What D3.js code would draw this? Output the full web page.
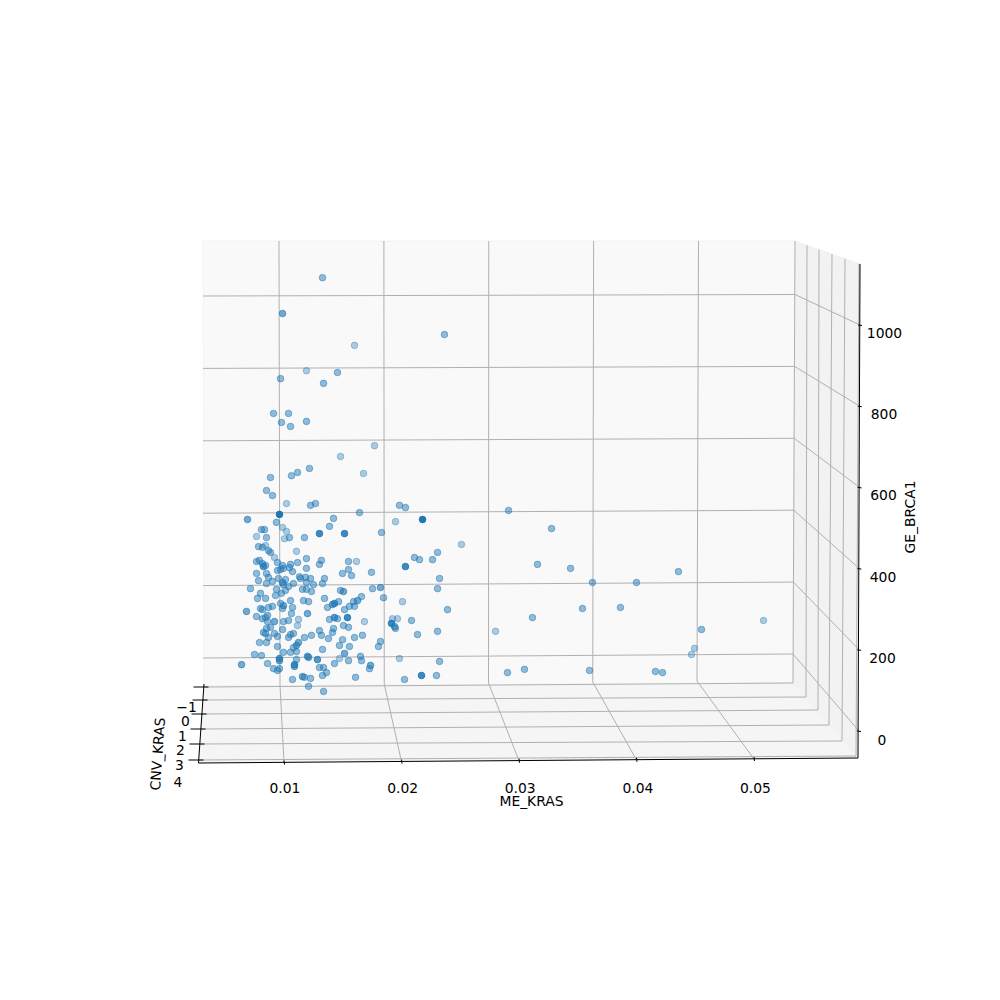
<!DOCTYPE html>
<html>
<head>
<meta charset="utf-8">
<script src="https://cdn.jsdelivr.net/npm/d3@7/dist/d3.min.js"></script>
<style>
html,body{margin:0;padding:0;background:#fff}
svg{display:block}
text{font-family:"DejaVu Sans",sans-serif;font-size:13.89px;fill:#000}
</style>
</head>
<body>
<svg id="chart" width="1000" height="1000"></svg>
<script>
const meTicks = [0.01,0.02,0.03,0.04,0.05];
const cnvTicks = [-1,0,1,2,3,4];
const geTicks = [0,200,400,600,800,1000];

const meKras = [
.0141,.01029,.02573,.01715,.01257,.01553,.0101,.0142,.00943,.01086,
.01257,.01019,.01105,.01906,.01582,.01801,.01286,.01172,.01114,.00914,
.00876,.00933,.01067,.01296,.01343,.01,.00695,.01515,.00971,.01477,
.00828,.00857,.01029,.01067,.01381,.0162,.00781,.00876,.01048,.01095,
.01238,.01162,.008,.00838,.00867,.00895,.00914,.00952,.01257,.01257,
.014,.01381,.01172,.01658,.01734,.01658,.01601,.01687,.01877,.00781,
.00809,.00838,.00847,.00867,.00981,.01029,.01105,.00981,.0101,.01038,
.01095,.01124,.00781,.00876,.008,.00895,.00876,.00933,.0099,.01029,
.01057,.01038,.01133,.01086,.01191,.012,.01248,.01257,.01296,.01324,
.01429,.0141,.00723,.00971,.00819,.00867,.0079,.01019,.01057,.01219,
.01257,.01305,.01582,.0161,.01429,.01105,.01229,.01277,.00962,.00933,
.00895,.00819,.00838,.0101,.01038,.01029,.01124,.01114,.01267,.01458,
.01505,.01524,.01563,.0162,.01667,.01715,.01706,.01744,.01782,.00685,
.00781,.00838,.00867,.00886,.00886,.00952,.00914,.00876,.00847,.00867,
.00895,.00952,.00981,.01029,.01038,.01086,.01181,.01172,.01133,.01105,
.01086,.01238,.01305,.01381,.014,.01515,.01505,.01467,.01524,.01553,
.01477,.01648,.0161,.0181,.01658,.01601,.01572,.01667,.01791,.01715,
.01963,.01944,.00809,.00876,.00981,.01181,.01162,.01133,.01162,.01105,
.01038,.0141,.00762,.00828,.01,.01,.01162,.01267,.01277,.01362,
.0162,.01572,.01658,.01772,.01782,.01524,.00638,.00886,.01143,.01143,
.00943,.00981,.01,.01381,.0142,.01448,.0141,.01219,.01238,.01296,
.01124,.01277,.0142,.01868,.01858,.01725,.02192,.02354,.02497,.02144,
.02526,.01992,.02173,.02602,.02077,.02125,.02259,.02068,.02097,.02106,
.02316,.02507,.01887,.01963,.02526,.02507,.01763,.02144,.02201,.02106,
.02364,.01973,.02735,.02507,.02287,.02335,.02459,.02201,.03184,.03594,
.0346,.03775,.03984,.04404,.04804,.03412,.03889,.04251,.05024,.05615,
.04957,.04928,.0306,.03174,.03336,.03956,.04585,.04652
];
const geBrca1 = [
1052,953,895,865,795,790,773,760,677,677,
655,652,641,588,558,511,525,514,505,500,
464,450,428,423,428,398,384,387,376,365,
356,356,362,351,345,345,337,334,331,334,
334,296,309,307,312,298,293,279,276,249,
271,260,265,268,268,246,235,229,238,268,
271,262,254,257,265,257,260,243,246,249,
251,240,235,235,215,224,207,213,221,210,
218,204,207,199,226,221,224,210,221,204,
221,207,193,191,180,166,166,180,188,191,
191,185,188,185,166,160,160,157,174,144,
141,138,135,152,146,138,141,124,124,141,
149,152,157,135,144,144,157,160,171,130,
116,110,113,119,102,102,86,83,72,69,
58,69,61,80,102,105,108,91,69,66,
58,58,64,77,64,83,72,55,113,110,
108,113,91,102,86,52,36,33,64,58,
47,33,44,44,33,44,36,30,19,17,
17,25,11,8,0,-6,-3,6,3,-3,
14,0,-6,6,-6,-14,-17,-14,-17,-22,
-28,-33,-28,-25,-25,-39,-47,-50,-52,-55,
-58,-77,-91,-19,-28,-52,-58,-47,-47,0,
-8,168,157,135,110,110,105,97,88,83,
66,75,193,196,221,193,403,423,417,378,
384,348,315,293,279,273,273,254,409,359,
260,249,210,210,240,113,138,141,80,105,
28,11,75,-39,-30,-33,-36,-39
];
const cnvKras = [
0,1,0,-1,-1,0,0,0,0,0,
0,0,0,-1,-1,-1,0,0,0,0,
0,0,-1,0,0,4,1,0,0,0,
0,0,-1,-1,3,3,-1,0,-1,0,
0,-1,0,0,-1,0,0,-1,0,0,
0,0,0,0,-1,0,0,0,0,0,
0,0,2,0,0,0,0,0,0,0,
0,0,0,0,0,0,0,0,0,1,
0,0,0,0,0,0,0,0,0,0,
0,0,0,0,0,0,0,0,0,0,
0,0,0,1,0,0,0,0,0,0,
0,0,0,0,1,0,0,0,1,0,
1,2,0,0,0,0,0,1,0,1,
0,0,0,0,0,1,0,0,0,0,
0,0,0,0,0,0,-1,-1,0,0,
0,0,0,0,0,0,0,0,2,0,
0,3,0,-1,0,0,0,0,0,0,
0,0,0,0,0,1,1,0,0,0,
0,0,0,0,2,1,0,1,1,2,
1,-1,0,0,0,0,1,0,2,1,
0,0,0,0,0,0,0,1,0,0,
0,0,0,1,0,0,0,3,0,-1,
0,0,-1,0,-1,-1,0,3,1,0,
0,0,0,1,0,0,0,0,0,-1,
4,0,-1,0,0,0,0,3,0,0,
0,0,0,0,0,0,0,0,0,-1,
-1,-1,-1,0,0,0,0,0
];

const svg = d3.select("#chart");

// Projected edges of the 3D box, one scale per edge
const meBackTop = d3.scaleLinear().domain([0.01,0.05]).range([279,698.5]);
const meBackBottom = d3.scaleLinear().domain([0.01,0.05]).range([280,697]);
const meFront = d3.scaleLinear().domain([0.01,0.05]).range([284,754]);
const meFrontY = d3.scaleLinear().domain([0.01,0.05]).range([762.5,759]);
const meBackY = d3.scaleLinear().domain([0.01,0.05]).range([685,681]);
const mePoint = d3.scaleLinear().domain([0.01,0.05]).range([279.5,699]);

const cnvLeftY = d3.scaleLinear().domain(cnvTicks).range([687,700,714,729,744,760]);
const cnvLeftX = d3.scaleLinear().domain([-1,4]).range([203.5,198.5]);
const cnvRightY = d3.scaleLinear().domain(cnvTicks).range([683,697,710,725,741,756]);
const cnvRightX = d3.scaleLinear().domain(cnvTicks).range([793,806,818,829,842,856]);
const cnvTopX = d3.scaleLinear().domain(cnvTicks).range([795,807,819,832,845,859]);
const cnvTopY = d3.scaleLinear().domain([795,860]).range([241,264]);

const geLeft = d3.scaleLinear().domain([0,1000]).range([658,296]);
const gePoint = d3.scaleLinear().domain([0,1000]).range([658.5,296.5]);
const geCorner = d3.scaleLinear().domain([0,1000]).range([654,294.5]);
const geCornerX = d3.scaleLinear().domain([0,1000]).range([793,795]);
const geOuter = d3.scaleLinear().domain([0,1000]).range([731,325]);
const geOuterX = d3.scaleLinear().domain([0,1000]).range([859,860]);

const shade = d3.scaleLinear().domain([-1,4]).range([0.36,1]);

// Panes
const panes = [
  {fill:"#f9f9f9", pts:[[203,241],[795,241],[793,683],[204,686]]},
  {fill:"#f2f2f2", pts:[[795,241],[860,264],[858,758],[793,683]]},
  {fill:"#f5f5f5", pts:[[204,686],[793,683],[858,758],[198,763]]}
];
svg.append("g").selectAll("polygon").data(panes).join("polygon")
  .attr("points", d => d.pts.join(" "))
  .attr("fill", d => d.fill)
  .attr("stroke", "#f2f2f2").attr("stroke-width", 1);

// Grid
const grid = svg.append("g").attr("stroke","#b0b0b0").attr("stroke-width",1).attr("fill","none");
const path = pts => d3.line()(pts);
meTicks.forEach(m => {
  grid.append("path").attr("d", path([[meBackTop(m),241],[meBackBottom(m),meBackY(m)],[meFront(m),meFrontY(m)]]));
});
cnvTicks.forEach(c => {
  grid.append("path").attr("d", path([[cnvLeftX(c),cnvLeftY(c)],[cnvRightX(c),cnvRightY(c)],[cnvTopX(c),cnvTopY(cnvTopX(c))]]));
});
geTicks.forEach(g => {
  grid.append("path").attr("d", path([[203,geLeft(g)],[geCornerX(g),geCorner(g)],[geOuterX(g),geOuter(g)]]));
});

// Axis lines and ticks
const axes = svg.append("g").attr("stroke","#000").attr("stroke-width",1).attr("fill","none");
axes.append("path").attr("d", path([[204,684],[198.5,763],[858,758],[860,264]]));
meTicks.forEach(m => {
  axes.append("line").attr("x1",meFront(m)).attr("x2",meFront(m)+0.5)
    .attr("y1",meFrontY(m)-2).attr("y2",meFrontY(m)+2);
});
cnvTicks.forEach(c => {
  const x = cnvLeftX(c);
  axes.append("line").attr("x1",x-10).attr("x2",x+5).attr("y1",cnvLeftY(c)).attr("y2",cnvLeftY(c));
});
geTicks.forEach(g => {
  axes.append("line").attr("x1",geOuterX(g)-2).attr("x2",geOuterX(g)+2).attr("y1",geOuter(g)).attr("y2",geOuter(g)+0.5);
});

// Points
const points = meKras.map((m,i) => ({m, g:geBrca1[i], c:cnvKras[i]}));
svg.append("g").selectAll("circle").data(points).join("circle")
  .attr("cx", d => mePoint(d.m))
  .attr("cy", d => gePoint(d.g))
  .attr("r", 3.3)
  .attr("fill", "#1f77b4")
  .attr("stroke", "#1f77b4")
  .attr("stroke-width", 1)
  .attr("fill-opacity", d => shade(d.c))
  .attr("stroke-opacity", d => shade(d.c));

// Tick labels
const mid = sel => sel.attr("text-anchor","middle").attr("dominant-baseline","central");
const meLabelX = d3.scaleLinear().domain([0.01,0.05]).range([285,755.5]);
svg.append("g").selectAll("text").data(meTicks).join("text").call(mid)
  .attr("x", d => meLabelX(d)).attr("y", 788).text(d => d3.format(".2f")(d));

const cnvLabelX = d3.scaleLinear().domain(cnvTicks).range([186.5,185.5,182.5,180.5,179.5,178]);
const cnvLabelY = d3.scaleLinear().domain(cnvTicks).range([707,721,736,750,765,782]);
svg.append("g").selectAll("text").data(cnvTicks).join("text").call(mid)
  .attr("x", d => cnvLabelX(d)).attr("y", d => cnvLabelY(d))
  .text(d => String(d).replace("-","\u2212"));

const geLabelX = d3.scaleLinear().domain([0,1000]).range([882,884.5]);
const geLabelY = d3.scaleLinear().domain([0,1000]).range([739.5,332.5]);
svg.append("g").selectAll("text").data(geTicks).join("text").call(mid)
  .attr("x", d => geLabelX(d)).attr("y", d => geLabelY(d)).text(d => d);

// Axis titles
svg.append("text").call(mid).attr("x",531.5).attr("y",800.5).text("ME_KRAS");
svg.append("text").call(mid).attr("transform","translate(157.5,754) rotate(-86)").text("CNV_KRAS");
svg.append("text").call(mid).attr("transform","translate(909.5,517) rotate(-90)").text("GE_BRCA1");
</script>
</body>
</html>
